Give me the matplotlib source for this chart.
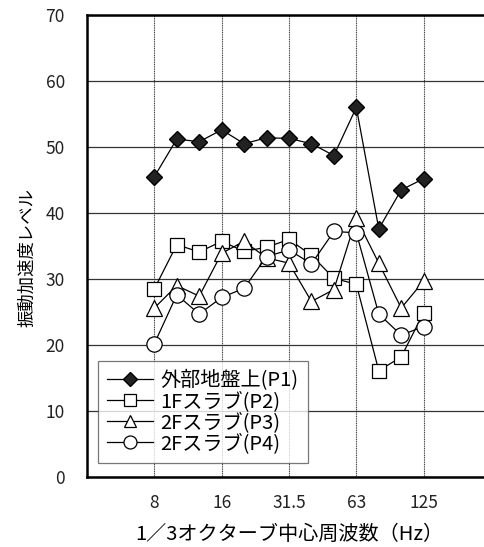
import matplotlib.pyplot as plt
import numpy as np

plt.rcParams['font.family'] = ['Noto Sans CJK JP', 'DejaVu Sans']

# 1/3オクターブ中心周波数 (8-125Hz, 13バンド)
bands = ["8", "10", "12.5", "16", "20", "25", "31.5", "40", "50", "63", "80", "100", "125"]
tick_labels = ["8", "16", "31.5", "63", "125"]

# 振動加速度レベル (dB)
p1 = [45.5, 51.2, 50.8, 52.6, 50.5, 51.4, 51.3, 50.5, 48.7, 56.0, 37.6, 43.5, 45.2]
p2 = [28.5, 35.2, 34.1, 35.7, 34.2, 34.8, 36.0, 33.6, 30.1, 29.2, 16.1, 18.2, 24.9]
p3 = [25.6, 29.0, 27.4, 33.9, 35.7, 33.2, 32.4, 26.6, 28.4, 39.2, 32.4, 25.6, 29.7]
p4 = [20.2, 27.6, 24.7, 27.2, 28.6, 33.4, 34.4, 32.3, 37.2, 37.0, 24.7, 21.5, 22.8]

names = ["外部地盤上(P1)", "1Fスラブ(P2)", "2Fスラブ(P3)", "2Fスラブ(P4)"]

x = np.arange(len(bands))

fig = plt.figure(figsize=(4.84, 5.47), dpi=100)
ax = fig.add_axes([87 / 484, 70 / 547, 404 / 484, 462 / 547])

ax.plot(x, p1, color="black", lw=0.9, marker="D", ms=8.5,
        mfc="#222222", mec="black", label=names[0], zorder=3)
ax.plot(x, p2, color="black", lw=0.9, marker="s", ms=10.5,
        mfc="white", mec="black", mew=0.9, label=names[1], zorder=3)
ax.plot(x, p3, color="black", lw=0.9, marker="^", ms=11,
        mfc="white", mec="black", mew=0.9, label=names[2], zorder=3)
ax.plot(x, p4, color="black", lw=0.9, marker="o", ms=11,
        mfc="white", mec="black", mew=0.9, label=names[3], zorder=3)

ax.set_xlim(-3, 15)
ax.set_ylim(0, 70)
ax.set_xticks([0, 3, 6, 9, 12])
ax.set_xticklabels(tick_labels)
ax.set_yticks(np.arange(0, 71, 10))

ax.tick_params(axis="both", length=0, labelsize=12.5, colors="#222222")
ax.tick_params(axis="y", pad=16)
ax.tick_params(axis="x", pad=12)

ax.grid(axis="y", color="#333333", lw=0.9)
ax.grid(axis="x", color="#444444", lw=0.8, ls=(0, (1, 0.6)))
ax.set_axisbelow(True)

for side in ["left", "bottom", "top"]:
    ax.spines[side].set_linewidth(1.8)
    ax.spines[side].set_color("black")
ax.spines["right"].set_visible(False)

ax.set_xlabel("1／3オクターブ中心周波数（Hz）", fontsize=14.5, labelpad=9)
ax.set_ylabel("振動加速度レベル", fontsize=12.5)
ax.yaxis.set_label_coords(-0.125, 0.475)

leg = ax.legend(loc="lower left", bbox_to_anchor=(0.027, 0.03), borderaxespad=0,
                fontsize=14.5, frameon=True, fancybox=False, edgecolor="#555555",
                handlelength=2.3, handletextpad=0.35, labelspacing=0.0,
                borderpad=0.45, markerscale=0.85)
leg.get_frame().set_linewidth(0.9)
leg.set_zorder(5)

fig.savefig("out.png", dpi=100)
